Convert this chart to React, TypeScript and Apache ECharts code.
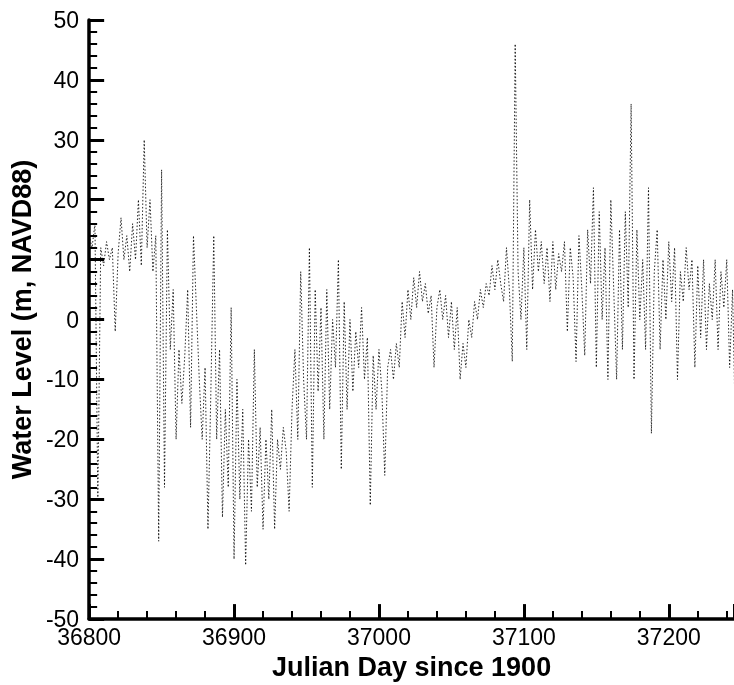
import React, { useEffect, useRef } from "react";
import * as echarts from "echarts";

// Sampling of the record (Julian day since 1900)
const START_DAY = 36800;
const STEP_DAYS = 2;

// Water level values (m, NAVD88), one per sample
const waterLevel: number[] = [
  14, 12, 16, -30, 12, 9, 13, 10, 12, -2,
  11, 17, 10, 14, 8, 16, 10, 20, 9, 30,
  12, 20, 8, 14, -37, 25, -28, 15, -5, 5,
  -20, -5, -14, -6, 5, -18, 14, 2, -10, -20,
  -8, -35, -12, 14, -20, -5, -33, -15, -28, 2,
  -40, -10, -30, -15, -41, -20, -32, -5, -28, -18,
  -35, -20, -30, -15, -35, -20, -25, -18, -22, -32,
  -15, -5, -20, 8, -10, -20, 12, -28, 5, -12,
  2, -20, 5, -15, 0, -8, 10, -25, 3, -15,
  0, -12, -2, -8, 2, -10, -3, -31, -6, -15,
  -5, -12, -26, -8, -5, -10, -4, -8, 3, -3,
  5, 0, 7, 2, 8, 3, 6, 1, 4, -8,
  2, 5, 0, 4, -3, 3, -5, 2, -10, -4,
  -8, 0, -3, 3, 0, 5, 2, 6, 4, 9,
  5, 10, 6, 3, 12, 5, -7, 46, 8, 0,
  12, -5, 20, 5, 15, 8, 13, 6, 12, 3,
  13, 5, 11, 8, 13, -2, 12, 7, -7, 14,
  5, -6, 15, 6, 22, -8, 18, 0, 12, -10,
  20, 5, -10, 15, -5, 18, 2, 36, -10, 15,
  0, 10, -5, 22, -19, 8, 15, -5, 10, 0,
  13, 3, 12, -10, 8, 3, 12, 5, 10, -8,
  9, -3, 10, -5, 6, 0, 10, -5, 8, 2,
  10, -8, 5, -19,
];

const X_MIN = 36800;
const X_MAX = 37245;
const X_INTERVAL = 100;
const Y_MIN = -50;
const Y_MAX = 50;
const Y_INTERVAL = 10;

const X_NAME = "Julian Day since 1900";
const Y_NAME = "Water Level (m, NAVD88)";

function buildOption() {
  const data = waterLevel.map((v, i) => [START_DAY + i * STEP_DAYS, v]);
  const ax = {
    axisLine: { show: true, onZero: false, lineStyle: { color: "#000", width: 3.5 } },
    axisTick: { show: true, inside: true, length: 15, lineStyle: { color: "#000", width: 3 } },
    minorTick: { show: true, splitNumber: 5, length: 8, lineStyle: { color: "#000", width: 2 } },
    splitLine: { show: false },
  };
  return {
    animation: false,
    grid: { left: 88, right: 0, top: 20, bottom: 60 },
    xAxis: {
      type: "value",
      min: X_MIN,
      max: X_MAX,
      interval: X_INTERVAL,
      ...ax,
      axisLabel: {
        color: "#000",
        fontSize: 23,
        margin: 6,
        showMaxLabel: false,
        formatter: (v: number) => String(v),
      },
      name: X_NAME,
      nameLocation: "middle",
      nameGap: 30,
      nameTextStyle: { color: "#000", fontSize: 27, fontWeight: "bold" },
    },
    yAxis: {
      type: "value",
      min: Y_MIN,
      max: Y_MAX,
      interval: Y_INTERVAL,
      ...ax,
      axisLabel: {
        color: "#000",
        fontSize: 23,
        margin: 10,
        formatter: (v: number) => String(v),
      },
      name: Y_NAME,
      nameLocation: "middle",
      nameGap: 50,
      nameTextStyle: { color: "#000", fontSize: 27, fontWeight: "bold" },
    },
    series: [
      {
        type: "line",
        data,
        showSymbol: false,
        lineStyle: { color: "#000", width: 1, type: [1.5, 2], opacity: 0.85 },
      },
    ],
  };
}

export default function App() {
  const ref = useRef<HTMLDivElement | null>(null);

  useEffect(() => {
    if (!ref.current) return;
    const chart = echarts.init(ref.current, undefined, { renderer: "svg" });
    chart.setOption(buildOption());
    return () => chart.dispose();
  }, []);

  return <div ref={ref} style={{ position: "fixed", left: 0, top: 0, width: 734, height: 685 }} />;
}
